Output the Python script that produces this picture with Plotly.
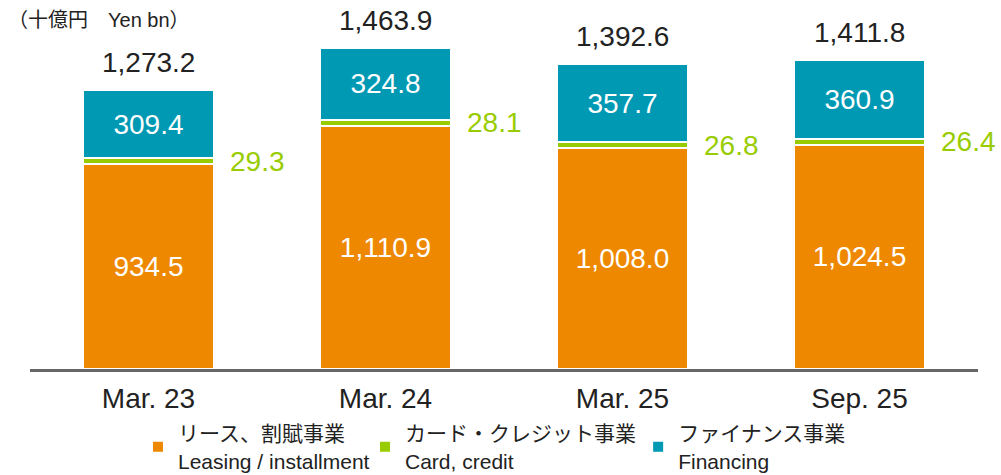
import plotly.graph_objects as go

periods = ["Mar. 23", "Mar. 24", "Mar. 25", "Sep. 25"]
leasing = [934.5, 1110.9, 1008.0, 1024.5]
card = [29.3, 28.1, 26.8, 26.4]
financing = [309.4, 324.8, 357.7, 360.9]
totals = [1273.2, 1463.9, 1392.6, 1411.8]

names = [
    "リース、割賦事業<br>Leasing / installment",
    "カード・クレジット事業<br>Card, credit",
    "ファイナンス事業<br>Financing",
]
colors = ["#EE8800", "#99CC00", "#0099B4"]

FONT = "Liberation Sans, Arial, Noto Sans CJK JP, sans-serif"

fig = go.Figure()
fig.add_bar(x=periods, y=leasing, name=names[0], marker_color=colors[0],
            marker_line=dict(color="white", width=2), legend="legend",
            texttemplate="%{y:,.1f}", textposition="inside", insidetextanchor="middle",
            textfont=dict(color="white", size=28), width=0.55)
fig.add_bar(x=periods, y=card, name=names[1], marker_color=colors[1],
            marker_line=dict(color="white", width=2), width=0.55, textposition="none",
            legend="legend2")
fig.add_bar(x=periods, y=financing, name=names[2], marker_color=colors[2],
            marker_line=dict(color="white", width=2), legend="legend3",
            texttemplate="%{y:,.1f}", textposition="inside", insidetextanchor="middle",
            textfont=dict(color="white", size=28), width=0.55)

# totals above bars
for p, t in zip(periods, totals):
    fig.add_annotation(x=p, y=t, text=f"{t:,.1f}", showarrow=False,
                       yanchor="bottom", yshift=10, font=dict(size=28, color="#222"))

# card values to the right of the green segment
for p, l, c in zip(periods, leasing, card):
    fig.add_annotation(x=p, y=l + c / 2, text=f"{c:,.1f}", showarrow=False,
                       xanchor="left", xshift=79, font=dict(size=28, color="#99CC00"))

fig.add_annotation(x=0, y=0.972, xref="paper", yref="paper", xshift=-24,
                   text="（十億円　Yen bn）", showarrow=False, xanchor="left", yanchor="middle",
                   font=dict(size=20, color="#222"))

leg = dict(orientation="h", xref="paper", yref="container", y=0.1305, yanchor="top",
           font=dict(size=21, color="#222"), bgcolor="rgba(0,0,0,0)")

fig.update_layout(
    width=1001, height=475,
    margin=dict(l=30, r=23, t=10, b=106, autoexpand=False),
    barmode="stack",
    plot_bgcolor="white", paper_bgcolor="white",
    font=dict(family=FONT, color="#222"),
    showlegend=True,
    legend=dict(leg, x=0.1139),
    legend2=dict(leg, x=0.3534),
    legend3=dict(leg, x=0.6415),
    xaxis=dict(showline=True, linecolor="#666", linewidth=3, ticks="", automargin=False,
               range=[-0.5, 3.5], ticklabelstandoff=2, tickfont=dict(size=28, color="#222")),
    yaxis=dict(visible=False, range=[0, 1639], showgrid=False, automargin=False),
)

# drop the default 8px page margin so the figure sits at the window's corner
fig.write_html("out.html", config={"displayModeBar": False},
               post_script="document.body.style.margin='0';")
